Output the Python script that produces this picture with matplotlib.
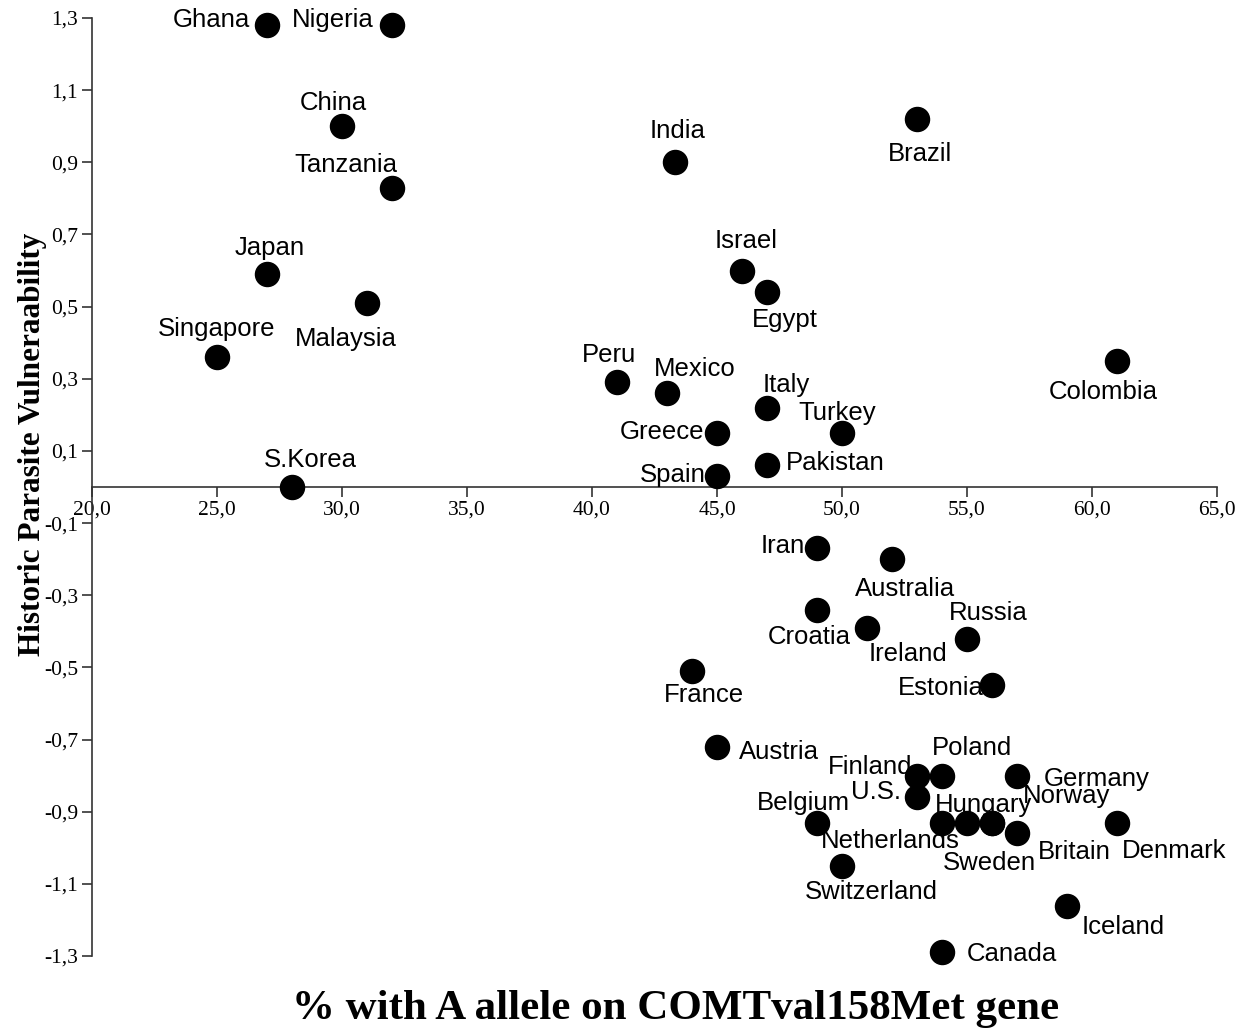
import matplotlib.pyplot as plt
from matplotlib.ticker import FuncFormatter

# data
countries = ["Ghana", "Nigeria", "China", "Tanzania", "India", "Brazil", "Japan",
             "Malaysia", "Singapore", "Israel", "Egypt", "Colombia", "Peru", "Mexico",
             "Italy", "Greece", "Turkey", "Pakistan", "Spain", "S.Korea", "Iran",
             "Australia", "Croatia", "Ireland", "Russia", "France", "Estonia", "Austria",
             "Finland", "Poland", "Germany", "U.S.", "Belgium", "Hungary", "Netherlands",
             "Sweden", "Norway", "Britain", "Denmark", "Switzerland", "Iceland", "Canada"]
allele_pct = [27, 32, 30, 32, 43.3, 53, 27,
              31, 25, 46, 47, 61, 41, 43,
              47, 45, 50, 47, 45, 28, 49,
              52, 49, 51, 55, 44, 56, 45,
              53, 54, 57, 53, 49, 55, 54,
              56, 56, 57, 61, 50, 59, 54]
parasite = [1.28, 1.28, 1.0, 0.83, 0.9, 1.02, 0.59,
            0.51, 0.36, 0.6, 0.54, 0.35, 0.29, 0.26,
            0.22, 0.15, 0.15, 0.06, 0.03, 0.0, -0.17,
            -0.2, -0.34, -0.39, -0.42, -0.51, -0.55, -0.72,
            -0.8, -0.8, -0.8, -0.86, -0.93, -0.93, -0.93,
            -0.93, -0.93, -0.96, -0.93, -1.05, -1.16, -1.29]

xticks = [20, 25, 30, 35, 40, 45, 50, 55, 60, 65]
yticks = [1.3, 1.1, 0.9, 0.7, 0.5, 0.3, 0.1, -0.1, -0.3, -0.5, -0.7, -0.9, -1.1, -1.3]

# label placement: (dx, dy in pixels, ha)
label_pos = {
    "Ghana": (-17, 5, "right"), "Nigeria": (-18, 5, "right"), "China": (-9, 23, "center"),
    "Tanzania": (-46, 23, "center"), "India": (3, 31, "center"), "Brazil": (3, -35, "center"),
    "Japan": (3, 26, "center"), "Malaysia": (-21, -36, "center"), "Singapore": (0, 28, "center"),
    "Israel": (4, 30, "center"), "Egypt": (18, -28, "center"), "Colombia": (-14, -31, "center"),
    "Peru": (-8, 27, "center"), "Mexico": (28, 24, "center"), "Italy": (19, 23, "center"),
    "Greece": (-13, 1, "right"), "Turkey": (-5, 20, "center"), "Pakistan": (19, 2, "left"),
    "Spain": (-11, 1, "right"), "S.Korea": (18, 27, "center"), "Iran": (-12, 2, "right"),
    "Australia": (13, -30, "center"), "Croatia": (-8, -27, "center"), "Ireland": (41, -26, "center"),
    "Russia": (21, 26, "center"), "France": (12, -24, "center"), "Estonia": (-8, -3, "right"),
    "Austria": (22, -5, "left"), "Finland": (-5, 9, "right"), "Poland": (30, 28, "center"),
    "Germany": (27, -3, "left"), "U.S.": (-16, 5, "right"), "Belgium": (-14, 20, "center"),
    "Hungary": (16, 18, "center"), "Netherlands": (-52, -18, "center"), "Sweden": (-3, -40, "center"),
    "Norway": (75, 27, "center"), "Britain": (57, -19, "center"), "Denmark": (57, -28, "center"),
    "Switzerland": (29, -26, "center"), "Iceland": (56, -21, "center"), "Canada": (25, -2, "left"),
}

fig = plt.figure(figsize=(12.49, 10.33), dpi=100)
ax = fig.add_axes([0.0737, 0.0745, 0.9007, 0.9081])

ax.scatter(allele_pct, parasite, s=300, color="black", zorder=3, clip_on=False)

for name, x, y in zip(countries, allele_pct, parasite):
    dx, dy, ha = label_pos[name]
    ax.annotate(name, (x, y), xytext=(dx, dy), textcoords="offset pixels",
                ha=ha, va="center", fontsize=18.5, family="Liberation Sans")

ax.set_xlim(20, 65)
ax.set_ylim(-1.3, 1.3)
ax.set_xticks(xticks)
ax.set_yticks(yticks)

comma = FuncFormatter(lambda v, p: ("%.1f" % v).replace(".", ","))
ax.xaxis.set_major_formatter(comma)
ax.yaxis.set_major_formatter(comma)

ax.spines["top"].set_visible(False)
ax.spines["right"].set_visible(False)
ax.spines["bottom"].set_position(("data", 0))
for sp in ("left", "bottom"):
    ax.spines[sp].set_linewidth(1.2)
    ax.spines[sp].set_color("#333333")

ax.tick_params(axis="both", direction="out", length=7, width=1.2, color="#333333",
               labelsize=15.5, pad=3)
for lab in ax.get_xticklabels() + ax.get_yticklabels():
    lab.set_family("Liberation Serif")

ax.set_ylabel("Historic Parasite Vulneraability", fontsize=22.5, fontweight="bold",
              family="Liberation Serif")
ax.yaxis.set_label_coords(-0.040, 0.545)
ax.set_xlabel("% with A allele on COMTval158Met gene", fontsize=31, fontweight="bold",
              family="Liberation Serif")
ax.xaxis.set_label_coords(0.519, -0.036)

fig.savefig("out.png", dpi=100)
